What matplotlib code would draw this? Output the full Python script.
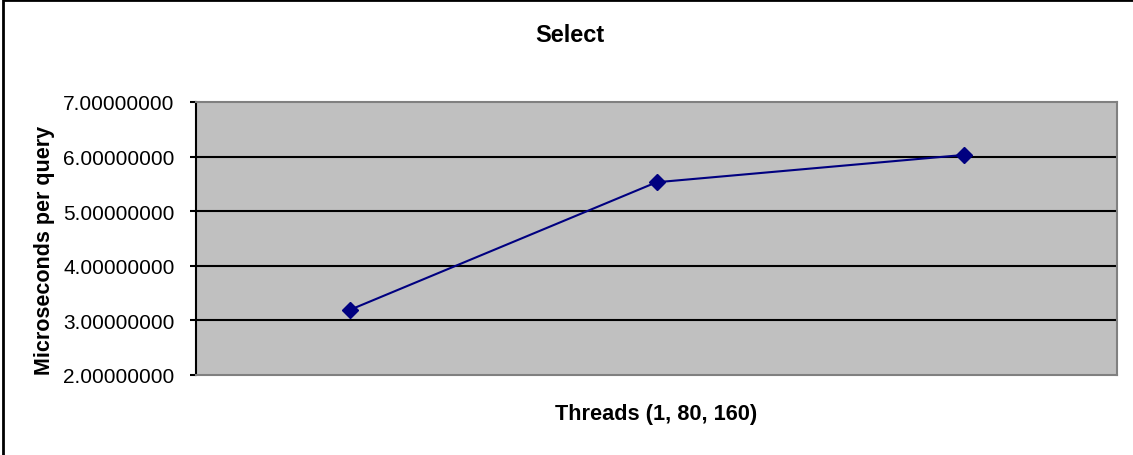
import matplotlib
matplotlib.use("Agg")
import matplotlib.pyplot as plt
from matplotlib.patches import Rectangle

# Data
categories = ["1", "80", "160"]
micros_per_query = [3.19, 5.53, 6.03]
y_ticks = [2.0, 3.0, 4.0, 5.0, 6.0, 7.0]

plt.rcParams["font.family"] = ["Liberation Sans", "DejaVu Sans"]

W, H = 1133, 456
fig = plt.figure(figsize=(W / 100, H / 100), dpi=100)
fig.patch.set_facecolor("white")

# outer chart frame (left and top edges visible)
fig.patches.append(Rectangle((3 / W, -0.1), 1.2, 1 - 1 / H + 0.1, transform=fig.transFigure,
                             fill=False, edgecolor="black", linewidth=2.0, zorder=0))

ax = fig.add_axes([196 / W, 1 - 376 / H, (1117 - 196) / W, (376 - 103) / H])
ax.set_facecolor("#c0c0c0")

x = list(range(len(categories)))
ax.set_xlim(-0.5, len(categories) - 0.5)
ax.set_ylim(y_ticks[0], y_ticks[-1])
ax.set_yticks(y_ticks)
ax.set_yticklabels([f"{v:.8f}" for v in y_ticks], fontsize=15)
ax.set_xticks([])

for v in y_ticks[1:-1]:
    ax.axhline(v, color="black", linewidth=1.5, zorder=1)

ax.plot(x, micros_per_query, color="#000080", linewidth=1.5, marker="D",
        markersize=8, markerfacecolor="#000080", markeredgecolor="#000080", zorder=3)

for side in ("top", "right", "bottom"):
    ax.spines[side].set_color("#808080")
    ax.spines[side].set_linewidth(1.5)
ax.spines["left"].set_color("black")
ax.spines["left"].set_linewidth(1.5)
ax.tick_params(axis="y", direction="out", length=4.5, width=1.5, pad=11, colors="black")

fig.text(570 / W, 1 - 35 / H, "Select", ha="center", va="center",
         fontsize=17, fontweight="bold")
fig.text(656 / W, 1 - 415 / H, "Threads (1, 80, 160)", ha="center", va="center",
         fontsize=15.7, fontweight="bold")
fig.text(45 / W, 1 - 250 / H, "Microseconds per query", ha="center", va="center",
         rotation=90, fontsize=15.5, fontweight="bold")

fig.savefig("out.png", dpi=100)
